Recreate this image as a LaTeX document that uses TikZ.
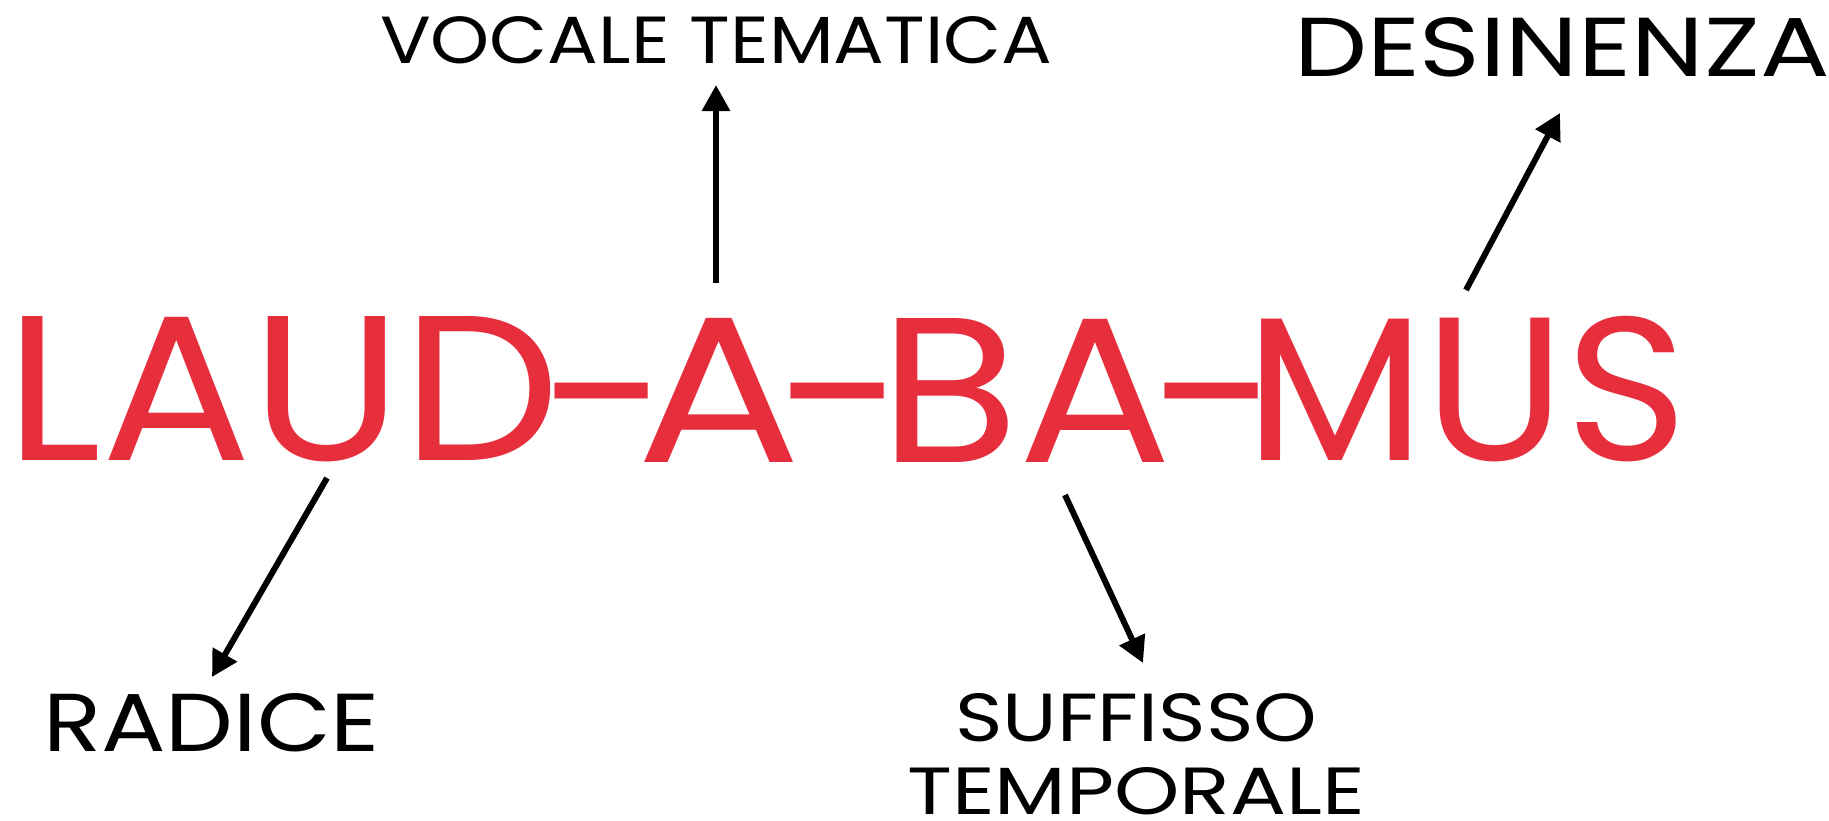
\documentclass[tikz,border=0pt]{standalone}
\usepackage{fontspec}
\setmainfont{Poppins}
\usetikzlibrary{arrows.meta}
\definecolor{wordred}{RGB}{230,46,60}
\begin{document}
\begin{tikzpicture}[x=1pt,y=-1pt,
  word/.style={inner sep=0pt,outer sep=0pt,text=wordred,anchor=south west},
  lbl/.style={inner sep=0pt,outer sep=0pt,text=black,anchor=south west},
  dashnode/.style={inner sep=0pt,outer sep=0pt,text=wordred,anchor=north,font=\fontsize{206}{206}\selectfont},
  pointer/.style={line width=6pt,-{Triangle[length=26pt,width=27pt]}}]
\useasboundingbox (0,0) rectangle (1829,820);
% main word
\node[word] (laud) at (5,462) {\resizebox{555pt}{144pt}{LAUD}};
\node[dashnode] (d1) at (601,383) {\scalebox{0.86}[1]{–}};
\node[word] (a) at (636,462) {\resizebox{165pt}{144pt}{A}};
\node[dashnode] (d2) at (837,383) {\scalebox{0.86}[1]{–}};
\node[word] (ba) at (879,462) {\resizebox{293pt}{144pt}{BA}};
\node[dashnode] (d3) at (1211,383) {\scalebox{0.86}[1]{–}};
\node[word] (mus) at (1245,462) {\resizebox{443pt}{144pt}{MUS}};
% labels
\node[lbl] (vocale) at (380,64) {\resizebox{672pt}{47pt}{VOCALE TEMATICA}};
\node[lbl] (desinenza) at (1294,77) {\resizebox{535pt}{59pt}{DESINENZA}};
\node[lbl] (radice) at (43,752) {\resizebox{337pt}{58pt}{RADICE}};
\node[lbl] (suffisso) at (955,742) {\resizebox{362pt}{48pt}{SUFFISSO}};
\node[lbl] (temporale) at (907,815) {\resizebox{458pt}{47pt}{TEMPORALE}};
% arrow ends
\coordinate (vtail) at (716,283);
\coordinate (vtip) at (716,85);
\coordinate (dtail) at (1466,290);
\coordinate (dtip) at (1560,113);
\coordinate (rtail) at (327,478);
\coordinate (rtip) at (212,677);
\coordinate (stail) at (1065,495);
\coordinate (stip) at (1143,663);
\draw[pointer] (vtail) -- (vtip);
\draw[pointer] (dtail) -- (dtip);
\draw[pointer] (rtail) -- (rtip);
\draw[pointer] (stail) -- (stip);
\end{tikzpicture}
\end{document}
